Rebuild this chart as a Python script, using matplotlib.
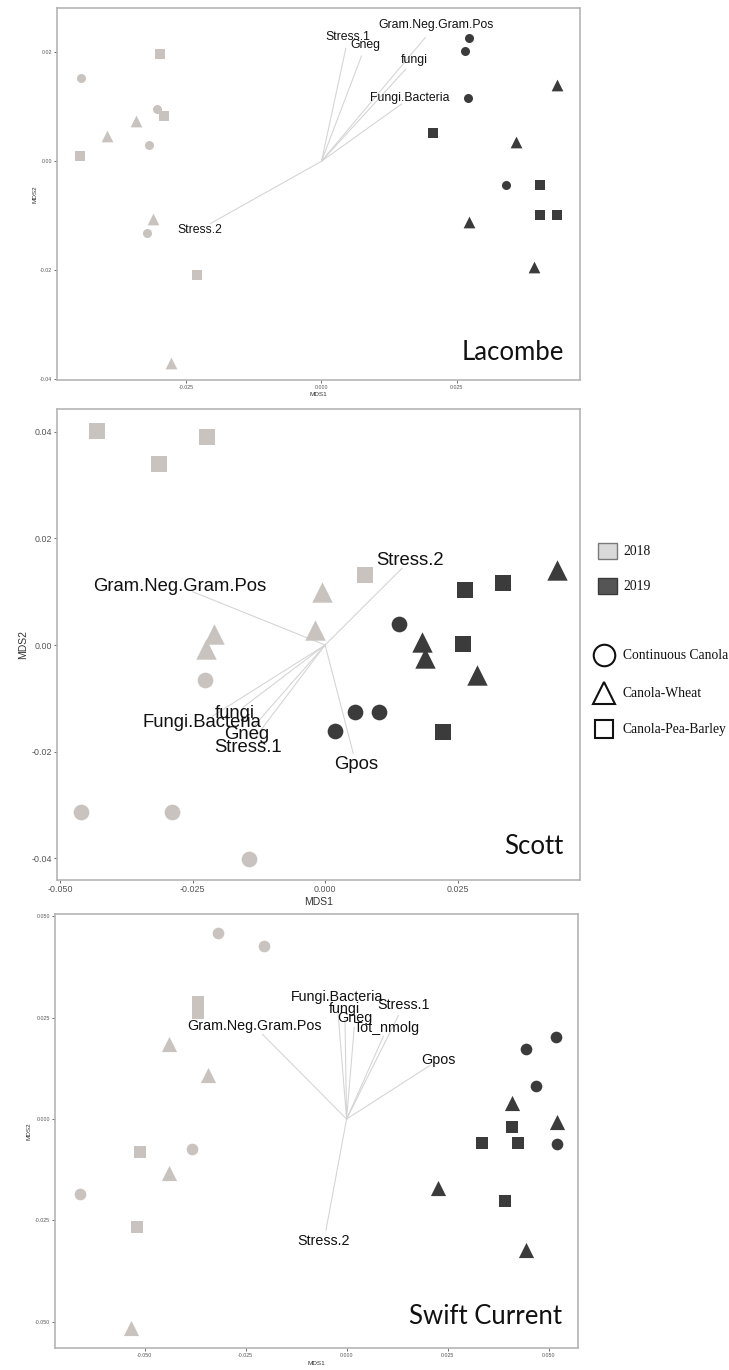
import matplotlib
matplotlib.use("Agg")
import matplotlib.pyplot as plt
from matplotlib.patches import Rectangle

plt.rcParams["axes.unicode_minus"] = False
plt.rcParams["font.family"] = ["Liberation Sans", "DejaVu Sans"]

# plot layout: 4 plots per rotation x year, order 2018 C/W/P then 2019 C/W/P
point_year = ["2018"] * 12 + ["2019"] * 12
point_rot = (["Continuous Canola"] * 4 + ["Canola-Wheat"] * 4 + ["Canola-Pea-Barley"] * 4) * 2

# NMDS site scores
lacombe_mds1 = [-0.0444, -0.0304, -0.0319, -0.0322,
                -0.0343, -0.0396, -0.0311, -0.0278,
                -0.0298, -0.0291, -0.0446, -0.0230,
                0.0272, 0.0265, 0.0270, 0.0341,
                0.0435, 0.0359, 0.0272, 0.0393,
                0.0207, 0.0404, 0.0404, 0.0435]
lacombe_mds2 = [0.0153, 0.0096, 0.0029, -0.0132,
                0.0074, 0.0046, -0.0105, -0.0370,
                0.0197, 0.0083, 0.0009, -0.0208,
                0.0226, 0.0202, 0.0116, -0.0044,
                0.0140, 0.0035, -0.0112, -0.0193,
                0.0052, -0.0044, -0.0099, -0.0098]

scott_mds1 = [-0.0226, -0.0461, -0.0289, -0.0143,
              -0.0006, -0.0019, -0.0209, -0.0225,
              -0.0431, -0.0223, -0.0313, 0.0075,
              0.0140, 0.0057, 0.0101, 0.0019,
              0.0437, 0.0182, 0.0189, 0.0286,
              0.0264, 0.0335, 0.0261, 0.0222]
scott_mds2 = [-0.0066, -0.0313, -0.0313, -0.0401,
              0.0099, 0.0029, 0.0020, -0.0008,
              0.0401, 0.0390, 0.0340, 0.0131,
              0.0039, -0.0125, -0.0126, -0.0162,
              0.0140, 0.0006, -0.0024, -0.0056,
              0.0103, 0.0116, 0.0002, -0.0163]

swift_mds1 = [-0.0318, -0.0204, -0.0383, -0.0661,
              -0.0439, -0.0342, -0.0439, -0.0533,
              -0.0367, -0.0367, -0.0511, -0.0518,
              0.0519, 0.0444, 0.0469, 0.0520,
              0.0409, 0.0520, 0.0226, 0.0444,
              0.0410, 0.0335, 0.0424, 0.0392]
swift_mds2 = [0.0459, 0.0427, -0.0075, -0.0185,
              0.0185, 0.0109, -0.0133, -0.0515,
              0.0290, 0.0262, -0.0081, -0.0267,
              0.0203, 0.0174, 0.0081, -0.0062,
              0.0039, -0.0007, -0.0169, -0.0323,
              -0.0019, -0.0058, -0.0060, -0.0202]

# fitted PLFA vectors (arrow tips)
lacombe_vec = ["Stress.1", "Gneg", "Gram.Neg.Gram.Pos", "fungi", "Fungi.Bacteria", "Stress.2"]
lacombe_vec1 = [0.0045, 0.0074, 0.0192, 0.0156, 0.0148, -0.0205]
lacombe_vec2 = [0.0207, 0.0193, 0.0227, 0.0169, 0.0105, -0.0114]

scott_vec = ["Stress.2", "Gram.Neg.Gram.Pos", "fungi", "Fungi.Bacteria", "Gneg", "Stress.1", "Gpos"]
scott_vec1 = [0.0145, -0.0250, -0.0155, -0.0212, -0.0135, -0.0133, 0.0053]
scott_vec2 = [0.0144, 0.0100, -0.0117, -0.0133, -0.0153, -0.0175, -0.0203]

swift_vec = ["Fungi.Bacteria", "fungi", "Gneg", "Stress.1", "Tot_nmolg",
             "Gram.Neg.Gram.Pos", "Gpos", "Stress.2"]
swift_vec1 = [-0.0022, -0.0004, 0.0019, 0.0128, 0.0091, -0.0208, 0.0206, -0.0051]
swift_vec2 = [0.0273, 0.0246, 0.0226, 0.0255, 0.0204, 0.0209, 0.0132, -0.0274]

year_col = {"2018": "#c8c3bf", "2019": "#3b3b3b"}
rot_marker = {"Continuous Canola": "o", "Canola-Wheat": "^", "Canola-Pea-Barley": "s"}
marker_scale = {"o": 1.0, "^": 1.3, "s": 1.05}

W, H = 729, 1370
fig = plt.figure(figsize=(W / 100, H / 100), dpi=100)


def box(l, t, r, b):
    return [l / W, 1 - b / H, (r - l) / W, (b - t) / H]


def nmds(ax, x, y, vnames, v1, v2, msize, vsize, tsize, lsize, site,
         xlim, ylim, xticks, yticks, xfmt, yfmt, lpad):
    for xi, yi, yr, rot in zip(x, y, point_year, point_rot):
        m = rot_marker[rot]
        ax.scatter(xi, yi, s=(msize * marker_scale[m]) ** 2, marker=m,
                   color=year_col[yr], linewidths=0, zorder=3)
    for name, a, b in zip(vnames, v1, v2):
        ax.plot([0, a], [0, b], color="#d3d3d3", lw=0.75, zorder=2)
        ax.text(a * 1.1, b * 1.1, name, ha="center", va="center",
                fontsize=vsize, color="#111111", zorder=4)
    ax.set_xlim(*xlim)
    ax.set_ylim(*ylim)
    ax.set_xticks(xticks)
    ax.set_yticks(yticks)
    ax.set_xticklabels([xfmt.format(v) for v in xticks])
    ax.set_yticklabels([yfmt.format(v) for v in yticks])
    ax.tick_params(length=2.2, width=0.6, color="#555555", labelsize=tsize,
                   labelcolor="#555555", pad=1.5)
    for sp in ax.spines.values():
        sp.set_color("#b5b5b5")
        sp.set_linewidth(1.2)
    ax.set_xlabel("MDS1", fontsize=lsize, color="#333333", labelpad=lpad)
    ax.set_ylabel("MDS2", fontsize=lsize, color="#333333", labelpad=lpad)
    ax.text(0.969, 0.055, site, transform=ax.transAxes, ha="right",
            va="baseline", fontsize=18.5, family="Lato", color="#111111", zorder=5)


ax1 = fig.add_axes(box(57, 8, 580, 380))
nmds(ax1, lacombe_mds1, lacombe_mds2, lacombe_vec, lacombe_vec1, lacombe_vec2,
     6.5, 8.8, 3.8, 4.6, "Lacombe",
     (-0.0489, 0.0478), (-0.0401, 0.0281),
     [-0.025, 0.0, 0.025], [-0.04, -0.02, 0.0, 0.02], "{:.3f}", "{:.2f}", 1.5)

ax2 = fig.add_axes(box(57, 409, 580, 880))
nmds(ax2, scott_mds1, scott_mds2, scott_vec, scott_vec1, scott_vec2,
     11.3, 13.3, 6.4, 7.5, "Scott",
     (-0.0506, 0.0481), (-0.0441, 0.0443),
     [-0.05, -0.025, 0.0, 0.025], [-0.04, -0.02, 0.0, 0.02, 0.04], "{:.3f}", "{:.2f}", 2)

ax3 = fig.add_axes(box(55, 914, 578, 1348))
nmds(ax3, swift_mds1, swift_mds2, swift_vec, swift_vec1, swift_vec2,
     8.4, 10.3, 3.8, 4.6, "Swift Current",
     (-0.0722, 0.0573), (-0.0565, 0.0506),
     [-0.05, -0.025, 0.0, 0.025, 0.05], [-0.05, -0.025, 0.0, 0.025, 0.05],
     "{:.3f}", "{:.3f}", 2)

# legend drawn on a pixel-space overlay
leg = fig.add_axes([0, 0, 1, 1], zorder=10)
leg.set_xlim(0, W)
leg.set_ylim(H, 0)
leg.axis("off")
serif = ["Liberation Serif", "DejaVu Serif"]
for yc, yr, fc, ec in [(551, "2018", "#d9d9d9", "#7a7a7a"), (586, "2019", "#555555", "#3a3a3a")]:
    leg.add_patch(Rectangle((598, yc - 8), 19, 16, facecolor=fc, edgecolor=ec, lw=1.0))
    leg.text(623, yc, yr, ha="left", va="center", fontsize=9.8, family=serif, color="#111111")
for yc, rot in zip([655, 693, 729], ["Continuous Canola", "Canola-Wheat", "Canola-Pea-Barley"]):
    m = rot_marker[rot]
    ms = {"o": 15.5, "^": 15.5, "s": 13.0}[m]
    leg.plot([604], [yc], marker=m, ms=ms, mfc="none", mec="#111111", mew=1.5)
    leg.text(623, yc, rot, ha="left", va="center", fontsize=9.8, family=serif, color="#111111")

fig.savefig("out.png", dpi=100)
